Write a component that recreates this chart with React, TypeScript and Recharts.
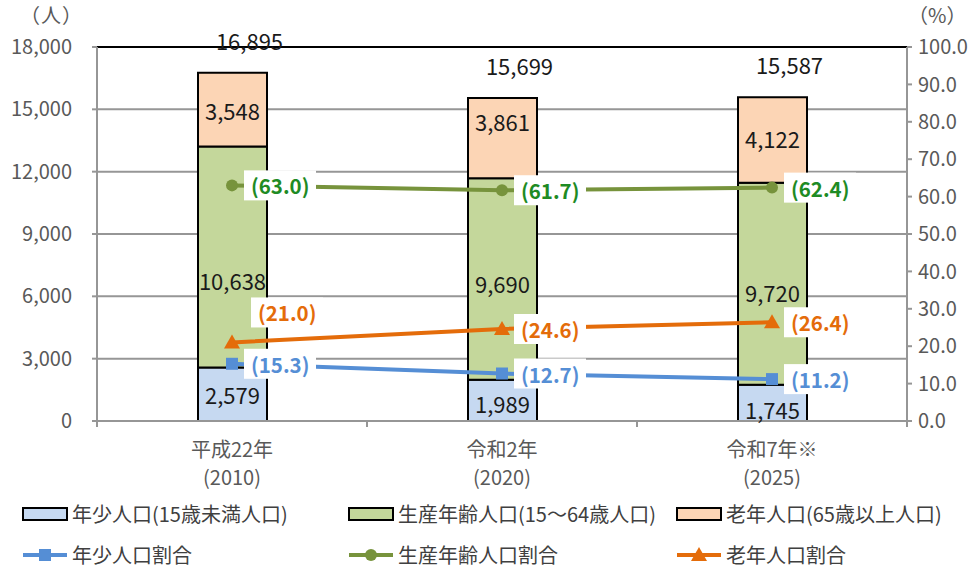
import React from 'react';
import { ComposedChart, Bar, Line, XAxis, YAxis, CartesianGrid, LabelList, ReferenceLine } from 'recharts';

const eras = ['平成22年', '令和2年', '令和7年※'];
const years = ['(2010)', '(2020)', '(2025)'];
const youth = [2579, 1989, 1745];
const working = [10638, 9690, 9720];
const elderly = [3548, 3861, 4122];
const totals = [16895, 15699, 15587];
const youthPct = [15.3, 12.7, 11.2];
const workingPct = [63.0, 61.7, 62.4];
const elderlyPct = [21.0, 24.6, 26.4];
const leftTicks = [0, 3000, 6000, 9000, 12000, 15000, 18000];
const rightTicks = [0, 10, 20, 30, 40, 50, 60, 70, 80, 90, 100];

// label nudges (layout only, px)
const youthLabelDy = [0, 3, 6];
const workingLabelDy = [23, 4, 8];
const elderlyLabelDy = [0, -17, -2];

const data = eras.map((era, i) => ({
  era,
  year: years[i],
  youth: youth[i],
  working: working[i],
  elderly: elderly[i],
  total: totals[i],
  youthPct: youthPct[i],
  workingPct: workingPct[i],
  elderlyPct: elderlyPct[i],
}));

const FONT = '"Noto Sans CJK JP", "Noto Sans", sans-serif';
const C = {
  youthFill: '#C6D9F1',
  workingFill: '#C4D79B',
  elderlyFill: '#FCD5B5',
  youthLine: '#558ED5',
  workingLine: '#77933C',
  elderlyLine: '#E46C0A',
  youthText: '#558ED5',
  workingText: '#1E8B24',
  elderlyText: '#E46C0A',
  grid: '#969696',
  axisText: '#595959',
};

const XTick = (props: any) => {
  const { x, y, payload, index } = props;
  const half = payload && payload.offset ? payload.offset : 135;
  return (
    <g>
      <line x1={x - half} x2={x - half} y1={y} y2={y + 6} stroke={C.grid} strokeWidth={2} />
      {index === eras.length - 1 && (
        <line x1={x + half} x2={x + half} y1={y} y2={y + 6} stroke={C.grid} strokeWidth={2} />
      )}
      <text x={x} y={y + 27} textAnchor="middle" dominantBaseline="central" fontSize={20} fill={C.axisText} fontFamily={FONT}>
        {eras[index]}
      </text>
      <text x={x} y={y + 55} textAnchor="middle" dominantBaseline="central" fontSize={20} fill={C.axisText} fontFamily={FONT}>
        {years[index]}
      </text>
    </g>
  );
};

const SquareDot = (props: any) => {
  const { cx, cy } = props;
  return <rect x={cx - 6} y={cy - 6} width={12} height={12} fill={C.youthLine} />;
};
const CircleDot = (props: any) => {
  const { cx, cy } = props;
  return <circle cx={cx} cy={cy} r={6} fill={C.workingLine} />;
};
const TriangleDot = (props: any) => {
  const { cx, cy } = props;
  return <polygon points={`${cx - 8},${cy + 6} ${cx + 8},${cy + 6} ${cx},${cy - 8}`} fill={C.elderlyLine} />;
};

const makePctLabel = (color: string, raised: number[]) => (props: any) => {
  const { x, y, value, index } = props;
  const up = raised.includes(index);
  const tx = x + (up ? 26 : 19);
  const ty = y + (up ? -30 : 0);
  return (
    <g>
      <rect x={tx - 7} y={ty - 15} width={72} height={30} fill="#fff" />
      <text x={tx} y={ty} dominantBaseline="central" fill={color} fontWeight="bold" fontSize={20.5} fontFamily={FONT}>
        ({Number(value).toFixed(1)})
      </text>
    </g>
  );
};

const makeSegLabel = (dys: number[]) => (props: any) => {
  const { x, y, width, height, value, index } = props;
  return (
    <text x={x + width / 2} y={y + height / 2 + (dys[index] || 0)} textAnchor="middle" dominantBaseline="central" fontSize={22} fill="#1a1a1a" fontFamily={FONT}>
      {Number(value).toLocaleString('en-US')}
    </text>
  );
};

const TotalLabel = (props: any) => {
  const { x, y, width, value } = props;
  return (
    <text x={x + width / 2 + 17} y={y - 33} textAnchor="middle" dominantBaseline="central" fontSize={22} fill="#1a1a1a" fontFamily={FONT}>
      {Number(value).toLocaleString('en-US')}
    </text>
  );
};

const fmt = (v: any) => Number(v).toLocaleString('en-US');

const BoxSwatch = ({ fill }: { fill: string }) => (
  <svg width={46} height={16} style={{ display: 'block' }}>
    <rect x={1} y={2} width={44} height={12} fill={fill} stroke="#000" strokeWidth={2} />
  </svg>
);
const LineSwatch = ({ color, shape }: { color: string; shape: string }) => (
  <svg width={46} height={18} style={{ display: 'block' }}>
    <line x1={1} x2={45} y1={9} y2={9} stroke={color} strokeWidth={4} />
    {shape === 'square' && <rect x={17} y={3} width={12} height={12} fill={color} />}
    {shape === 'circle' && <circle cx={23} cy={9} r={6} fill={color} />}
    {shape === 'triangle' && <polygon points="15,15 31,15 23,1" fill={color} />}
  </svg>
);

const legendRow1 = [
  { label: '年少人口(15歳未満人口)', fill: C.youthFill },
  { label: '生産年齢人口(15～64歳人口)', fill: C.workingFill },
  { label: '老年人口(65歳以上人口)', fill: C.elderlyFill },
];
const legendRow2 = [
  { label: '年少人口割合', color: C.youthLine, shape: 'square' },
  { label: '生産年齢人口割合', color: C.workingLine, shape: 'circle' },
  { label: '老年人口割合', color: C.elderlyLine, shape: 'triangle' },
];
const legendX = [22, 348, 676];

export default function App() {
  return (
    <div style={{ position: 'absolute', left: 0, top: 0, width: 974, height: 569, background: '#fff', fontFamily: FONT, overflow: 'hidden' }}>
      <ComposedChart
        width={974}
        height={569}
        data={data}
        margin={{ top: 47, right: 0, bottom: 88, left: 0 }}
        style={{ fontFamily: FONT }}
      >
        <CartesianGrid yAxisId="left" vertical={false} stroke={C.grid} strokeWidth={2} />
        <XAxis
          dataKey="era"
          height={60}
          interval={0}
          tick={<XTick />}
          tickLine={false}
          tickSize={0}
          tickMargin={0}
          axisLine={{ stroke: C.grid, strokeWidth: 2 }}
        />
        <YAxis
          yAxisId="left"
          width={97}
          domain={[0, 18000]}
          ticks={leftTicks}
          interval={0}
          tickFormatter={fmt}
          tickSize={5}
          tickMargin={20}
          axisLine={{ stroke: C.grid, strokeWidth: 2 }}
          tickLine={{ stroke: C.grid, strokeWidth: 2 }}
          tick={{ fill: C.axisText, fontSize: 20, fontFamily: FONT }}
        />
        <YAxis
          yAxisId="right"
          orientation="right"
          width={67}
          domain={[0, 100]}
          ticks={rightTicks}
          interval={0}
          tickFormatter={(v: any) => Number(v).toFixed(1)}
          tickSize={5}
          tickMargin={6}
          axisLine={{ stroke: C.grid, strokeWidth: 2 }}
          tickLine={{ stroke: C.grid, strokeWidth: 2 }}
          tick={{ fill: C.axisText, fontSize: 20, fontFamily: FONT, textAnchor: 'start' }}
        />
        <ReferenceLine yAxisId="left" y={18000} stroke="#000" strokeWidth={2} />
        <Bar yAxisId="left" dataKey="youth" stackId="a" barSize={69} fill={C.youthFill} stroke="#000" strokeWidth={2} isAnimationActive={false}>
          <LabelList dataKey="youth" content={makeSegLabel(youthLabelDy)} />
        </Bar>
        <Bar yAxisId="left" dataKey="working" stackId="a" barSize={69} fill={C.workingFill} stroke="#000" strokeWidth={2} isAnimationActive={false}>
          <LabelList dataKey="working" content={makeSegLabel(workingLabelDy)} />
        </Bar>
        <Bar yAxisId="left" dataKey="elderly" stackId="a" barSize={69} fill={C.elderlyFill} stroke="#000" strokeWidth={2} isAnimationActive={false}>
          <LabelList dataKey="elderly" content={makeSegLabel(elderlyLabelDy)} />
          <LabelList dataKey="total" content={<TotalLabel />} />
        </Bar>
        <Line yAxisId="right" dataKey="youthPct" stroke={C.youthLine} strokeWidth={4} dot={<SquareDot />} activeDot={false} isAnimationActive={false}>
          <LabelList dataKey="youthPct" content={makePctLabel(C.youthText, [])} />
        </Line>
        <Line yAxisId="right" dataKey="workingPct" stroke={C.workingLine} strokeWidth={4} dot={<CircleDot />} activeDot={false} isAnimationActive={false}>
          <LabelList dataKey="workingPct" content={makePctLabel(C.workingText, [])} />
        </Line>
        <Line yAxisId="right" dataKey="elderlyPct" stroke={C.elderlyLine} strokeWidth={4} dot={<TriangleDot />} activeDot={false} isAnimationActive={false}>
          <LabelList dataKey="elderlyPct" content={makePctLabel(C.elderlyText, [0])} />
        </Line>
      </ComposedChart>

      <div style={{ position: 'absolute', left: 20, top: 3, fontSize: 20, color: C.axisText, lineHeight: '24px', letterSpacing: 1 }}>（人）</div>
      <div style={{ position: 'absolute', left: 908, top: 3, fontSize: 20, color: C.axisText, lineHeight: '24px' }}>（%）</div>

      {legendRow1.map((it, i) => (
        <div key={it.label} style={{ position: 'absolute', left: legendX[i], top: 503, height: 22, lineHeight: '22px', display: 'flex', alignItems: 'center', fontSize: 20, color: '#404040', whiteSpace: 'nowrap' }}>
          <BoxSwatch fill={it.fill} />
          <span style={{ marginLeft: 4 }}>{it.label}</span>
        </div>
      ))}
      {legendRow2.map((it, i) => (
        <div key={it.label} style={{ position: 'absolute', left: legendX[i], top: 544, height: 22, lineHeight: '22px', display: 'flex', alignItems: 'center', fontSize: 20, color: '#404040', whiteSpace: 'nowrap' }}>
          <LineSwatch color={it.color} shape={it.shape} />
          <span style={{ marginLeft: 4 }}>{it.label}</span>
        </div>
      ))}
    </div>
  );
}
